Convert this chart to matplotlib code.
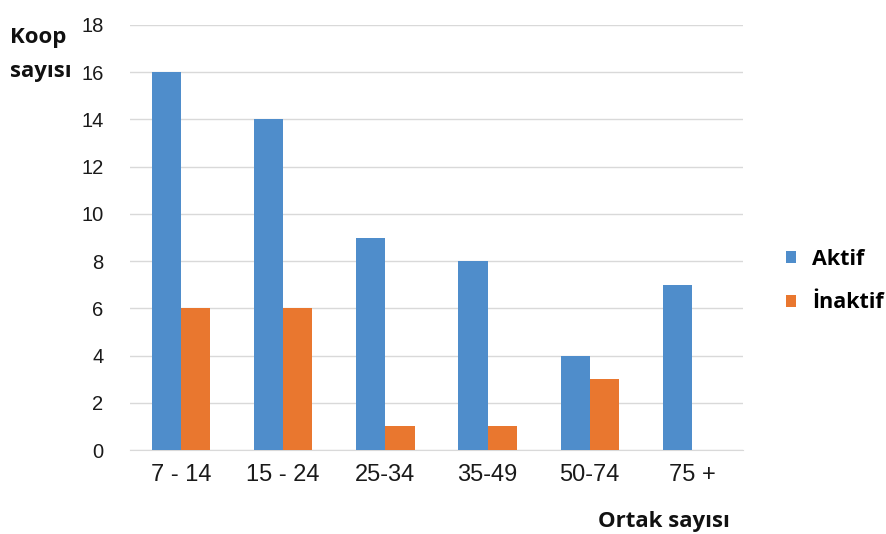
import numpy as np
import matplotlib
matplotlib.use('Agg')
import matplotlib.pyplot as plt

categories = ['7 - 14', '15 - 24', '25-34', '35-49', '50-74', '75 +']
aktif = [16, 14, 9, 8, 4, 7]
inaktif = [6, 6, 1, 1, 3, 0]
yticks = [0, 2, 4, 6, 8, 10, 12, 14, 16, 18]

blue = '#4F8DCB'
orange = '#E9772F'

plt.rcParams['font.family'] = ['Liberation Sans', 'DejaVu Sans']

fig = plt.figure(figsize=(8.86, 5.34), dpi=100, facecolor='white')
ax = fig.add_axes([130 / 886, 1 - 450 / 534, (743 - 130) / 886, (450 - 25) / 534])

x = np.arange(len(categories))
w = 0.285
ax.bar(x - w / 2, aktif, width=w, color=blue, label='Aktif', zorder=3)
ax.bar(x + w / 2, inaktif, width=w, color=orange, label='İnaktif', zorder=3)

ax.set_xlim(-0.5, len(categories) - 0.5)
ax.set_ylim(0, 18)
ax.set_yticks(yticks)
ax.set_xticks(x)
ax.set_xticklabels(categories)
ax.tick_params(axis='both', length=0, colors='#1a1a1a')
ax.tick_params(axis='y', labelsize=14.5, pad=19)
ax.tick_params(axis='x', labelsize=17, pad=10)
ax.grid(axis='y', color='#D9D9D9', linewidth=1, zorder=0)
for s in ['top', 'right', 'left']:
    ax.spines[s].set_visible(False)
ax.spines['bottom'].set_color('#D9D9D9')

bold = dict(family=['Open Sans', 'DejaVu Sans'], fontweight='bold', fontsize=16, color='#111111')
fig.text(10 / 886, 1 - 38 / 534, 'Koop', ha='left', va='center', **bold)
fig.text(10 / 886, 1 - 72 / 534, 'sayısı', ha='left', va='center', **bold)
fig.text(664 / 886, 1 - 521 / 534, 'Ortak sayısı', ha='center', va='center', **bold)

leg = fig.legend(loc='center left', bbox_to_anchor=(786 / 886, 1 - 281 / 534),
                 frameon=False, borderpad=0, borderaxespad=0,
                 handlelength=0.47, handleheight=0.47,
                 handletextpad=0.75, labelspacing=1.05,
                 prop={'family': ['Open Sans', 'DejaVu Sans'], 'weight': 'bold', 'size': 15.5})

fig.savefig('out.png', dpi=100, facecolor='white')
